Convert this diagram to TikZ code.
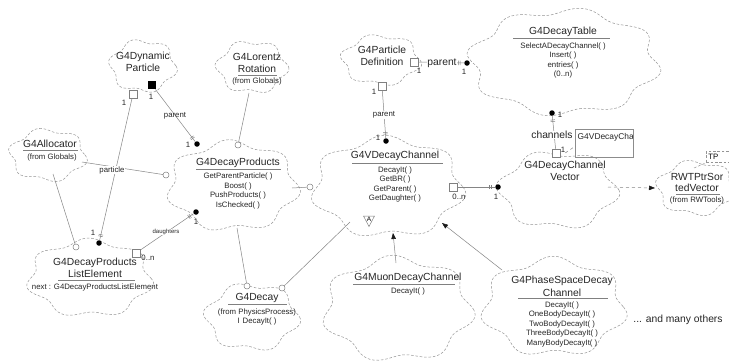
\documentclass[tikz,border=0pt]{standalone}
\usepackage{fontspec}
\setmainfont{Liberation Sans}
\usetikzlibrary{arrows.meta,decorations.markings}

% wavy dashed outline of a Booch class: centre x, centre y, radius x, radius y, lobes, phase, amplitude
\newcommand\wavycloud[7]{%
  \draw[cloudline] plot[variable=\t, samples=120, domain=0:357]
    ({#1+#3*(1+#7*sin(#5*\t+#6))*cos(\t)}, {#2+#4*(1+#7*sin(#5*\t+#6))*sin(\t)}) -- cycle;}

\tikzset{
  cloudline/.style={draw=black!42, line width=0.5pt, dash pattern=on 2.6pt off 1.8pt},
  link/.style={draw=black!48, line width=0.5pt},
  ttl/.style={font=\fontsize{10.3}{12}\selectfont, align=center, inner sep=0pt, text=black!85},
  ops/.style={font=\fontsize{7.8}{9.5}\selectfont, align=center, inner sep=0pt, text=black!85},
  lbl/.style={font=\fontsize{7.8}{9}\selectfont, inner sep=0pt, text=black!85},
  tinylbl/.style={font=\fontsize{6}{7}\selectfont, inner sep=0.5pt, text=black!85, fill=white},
  biglbl/.style={font=\fontsize{10.3}{12}\selectfont, inner sep=0.5pt, text=black!85},
  ulrule/.style={draw=black!50, line width=0.5pt},
  hasdot/.style={circle, fill=black, inner sep=0pt, minimum size=5.5pt},
  usecirc/.style={circle, draw=black!50, fill=white, inner sep=0pt, minimum size=6pt, line width=0.5pt},
  refsq/.style={rectangle, draw=black!50, fill=white, inner sep=0pt, minimum size=8pt, line width=0.5pt},
  valsq/.style={rectangle, fill=black, inner sep=0pt, minimum size=8.5pt},
  aggticks/.style={postaction={decorate, decoration={markings,
      mark=at position -4pt with {\draw[black!50, line width=0.5pt]
        (0,-2.2pt)--(0,2.2pt) (-1.6pt,-2.2pt)--(-1.6pt,2.2pt);}}}},
  solidtip/.style={-{Triangle[length=6pt, width=4.5pt, color=black!90]}},
  inherit/.style={link, solidtip},
}

\begin{document}
\begin{tikzpicture}[x=1pt, y=-1pt]
\clip (0,0) rectangle (729,362);
\fill[white] (0,0) rectangle (729,362);

% ---- class outlines
\wavycloud{143}{66}{32}{25}{6}{20}{0.09}    % G4DynamicParticle
\wavycloud{252}{67}{34}{25}{6}{60}{0.09}    % G4LorentzRotation
\wavycloud{48}{155}{37}{25}{6}{0}{0.09}     % G4Allocator
\wavycloud{233}{186}{63}{43}{7}{30}{0.08}   % G4DecayProducts
\wavycloud{90}{278}{60}{37}{7}{10}{0.08}    % G4DecayProductsListElement
\wavycloud{252}{317}{45}{32}{6}{40}{0.09}   % G4Decay
\wavycloud{381}{60}{38}{24}{6}{15}{0.09}    % G4ParticleDefinition
\wavycloud{564}{62}{92}{51}{8}{0}{0.07}     % G4DecayTable
\wavycloud{558}{190}{57}{37}{6}{50}{0.09}   % G4DecayChannelVector
\wavycloud{696}{188}{38}{26}{6}{0}{0.09}    % RWTPtrSortedVector
\wavycloud{388}{187}{73}{48}{7}{20}{0.08}   % G4VDecayChannel
\wavycloud{398}{309}{72}{50}{7}{35}{0.08}   % G4MuonDecayChannel
\wavycloud{554}{307}{69}{47}{7}{5}{0.08}    % G4PhaseSpaceDecayChannel

% ---- class names and compartments
\node[ttl] (dynT) at (143,62) {G4Dynamic\\Particle};

\node[ttl] (lorT) at (257,63) {G4Lorentz\\Rotation};
\draw[ulrule] (238,75) -- (277,75);
\node[ops] (lorF) at (257,81) {(from Globals)};

\node[ttl] (allT) at (50,144) {G4Allocator};
\draw[ulrule] (23,150) -- (78,150);
\node[ops] (allF) at (52,157) {(from Globals)};

\node[ttl] (dprT) at (238,163) {G4DecayProducts};
\draw[ulrule] (196,169) -- (281,169);
\node[ops] (dprM) at (238,191) {GetParentParticle( )\\Boost( )\\PushProducts( )\\IsChecked( )};

\node[ttl] (leT) at (95,268) {G4DecayProducts\\ListElement};
\draw[ulrule] (58,280) -- (135,280);
\node[ops] (leM) at (95,287) {next : G4DecayProductsListElement};

\node[ttl] (decT) at (257,298) {G4Decay};
\draw[ulrule] (228,304) -- (287,304);
\node[ops] (decM) at (257,317) {(from PhysicsProcess)\\I\hspace{3pt}DecayIt( )};

\node[ttl] (pdT) at (382,56) {G4Particle\\Definition};

\node[ttl] (dtT) at (563,32) {G4DecayTable};
\draw[ulrule] (513,38) -- (610,38);
\node[ops] (dtM) at (563,60.5) {SelectADecayChannel( )\\Insert( )\\entries( )\\(0..n)};

\node[ttl] (dcvT) at (565,171) {G4DecayChannel\\Vector};

\node[ttl, font=\fontsize{10.3}{11.5}\selectfont] (rwtT) at (697,182.5) {RWTPtrSor\\tedVector};
\draw[ulrule] (676,194) -- (720,194);
\node[ops] (rwtF) at (697,200.5) {(from RWTools)};

\node[ttl] (vdcT) at (395,156) {G4VDecayChannel};
\draw[ulrule] (352,163) -- (443,163);
\node[ops] (vdcM) at (395,184.5) {DecayIt( )\\GetBR( )\\GetParent( )\\GetDaughter( )};
\node[font=\fontsize{6.5}{7}\selectfont, inner sep=0pt] (absA) at (369,219.5) {A};
\draw[black!50, line width=0.5pt] (363.5,216) -- (374.5,216) -- (369,226.5) -- cycle;

\node[ttl] (muT) at (408,278) {G4MuonDecayChannel};
\draw[ulrule] (353,284) -- (455,284);
\node[ops] (muM) at (408,291) {DecayIt( )};

\node[ttl, font=\fontsize{10.3}{12.5}\selectfont] (psT) at (562,286.5) {G4PhaseSpaceDecay\\Channel};
\draw[ulrule] (518,298.5) -- (608,298.5);
\node[ops] (psM) at (562,324) {DecayIt( )\\OneBodyDecayIt( )\\TwoBodyDecayIt( )\\ThreeBodyDecayIt( )\\ManyBodyDecayIt( )};

\node[biglbl] (others) at (678,320) {... and many others};

% ---- parameterized class box and template parameter
\node[draw=black!45, line width=0.5pt, minimum width=58pt, minimum height=28pt, inner sep=0pt] (tplBox) at (604,143) {};
\begin{scope}
  \clip (575.5,129.5) rectangle (632.5,156.5);
  \node[font=\fontsize{8.4}{10}\selectfont, inner sep=0pt, text=black!85, anchor=west] (tplName) at (577.5,137.5) {G4VDecayChannel};
\end{scope}
\node[draw=black!42, line width=0.5pt, dash pattern=on 2.6pt off 1.8pt, anchor=west,
      minimum height=11pt, text width=26pt, inner xsep=2pt, inner ysep=0pt, align=left,
      font=\fontsize{7.8}{9}\selectfont] (tpBox) at (706,157) {TP};
\coordinate (rwtTop) at (694,168);
\draw[cloudline] (rwtTop) -- (tpBox.south west);

% ---- relationship ends
\node[valsq] (dynVal) at (152,85) {};
\node[refsq] (dynRef) at (133,94) {};
\node[hasdot] (dprPar) at (197,144) {};
\node[usecirc] (dprLor) at (238,145) {};
\node[usecirc] (dprAll) at (166,175) {};
\node[hasdot] (dprDau) at (196,212) {};
\node[hasdot] (lePart) at (99,243) {};
\node[usecirc] (leAll) at (76,247) {};
\node[refsq] (leDau) at (136,253) {};
\node[usecirc] (vdcUse) at (310,187) {};
\node[usecirc] (decL) at (247,286) {};
\node[usecirc] (decR) at (282,288) {};
\node[refsq] (pdRefR) at (414,62) {};
\node[refsq] (pdRefB) at (382,86) {};
\node[hasdot] (dtPar) at (467,63) {};
\node[hasdot] (vdcPar) at (386,141) {};
\node[hasdot] (dtChan) at (552,113) {};
\node[refsq] (dcvRef) at (556,153) {};
\node[hasdot] (dcvAgg) at (498,187) {};
\node[refsq] (vdcRef) at (453,187) {};

\coordinate (lorB) at (249,93);
\coordinate (allR) at (82,162);
\coordinate (allB) at (53,174);
\coordinate (dprR) at (292,188);
\coordinate (dprB) at (237,228);
\coordinate (vdcLL) at (350,222);
\coordinate (muTop) at (396,263);
\coordinate (vdcB) at (393,233);
\coordinate (psTop) at (502,270);
\coordinate (vdcBR) at (442,223);
\coordinate (dcvR) at (608,187);
\coordinate (rwtL) at (655,188);
\coordinate (tplIn) at (575.5,146);

% ---- multiplicities
\node[lbl] (n1) at (151,97) {1};
\node[lbl] (n2) at (124,103) {1};
\node[lbl] (n3) at (188,145) {1};
\node[lbl] (n4) at (196,222) {1};
\node[lbl] (n5) at (93,233) {1};
\node[lbl] (n6) at (148,258) {0..n};
\node[lbl] (n7) at (419,71) {1};
\node[lbl] (n8) at (374,92) {1};
\node[lbl] (n9) at (464,72) {1};
\node[lbl] (n10) at (378,138) {1};
\node[lbl] (n11) at (560,115) {1};
\node[lbl] (n12) at (563,150) {1};
\node[lbl] (n13) at (496,197) {1};
\node[lbl] (n14) at (459,197) {0..n};

% ---- connectors
\draw[link, aggticks] (dynVal) -- (dprPar);
\draw[link, aggticks] (dynRef) -- (lePart);
\draw[link] (lorB) -- (dprLor);
\draw[link] (allR) -- (dprAll);
\draw[link] (allB) -- (leAll);
\draw[link, aggticks] (leDau) -- (dprDau);
\draw[link] (dprR) -- (vdcUse);
\draw[link] (dprB) -- (decL);
\draw[link] (decR) -- (vdcLL);
\draw[link, aggticks] (pdRefB) -- (vdcPar);
\draw[link, aggticks] (pdRefR) -- (dtPar);
\draw[link, aggticks] (dcvRef) -- (dtChan);
\draw[link, aggticks] (vdcRef) -- (dcvAgg);
\draw[link, dashed, solidtip] (dcvR) -- (rwtL);
\draw[inherit] (muTop) -- (vdcB);
\draw[inherit] (psTop) -- (vdcBR);
\draw[link, dashed] (n12.south east) -- (tplIn);

% ---- role names
\node[lbl] (rParent1) at (175,116) {parent};
\node[lbl, fill=white, inner sep=0.5pt] (rParticle) at (112,170) {particle};
\node[tinylbl] (rDaughters) at (166,232) {daughters};
\node[lbl, fill=white, inner sep=0.5pt] (rParent2) at (384,115) {parent};
\node[biglbl, fill=white] (rParent3) at (442,63) {parent};
\node[biglbl, fill=white] (rChannels) at (552,135) {channels};
\end{tikzpicture}
\end{document}
